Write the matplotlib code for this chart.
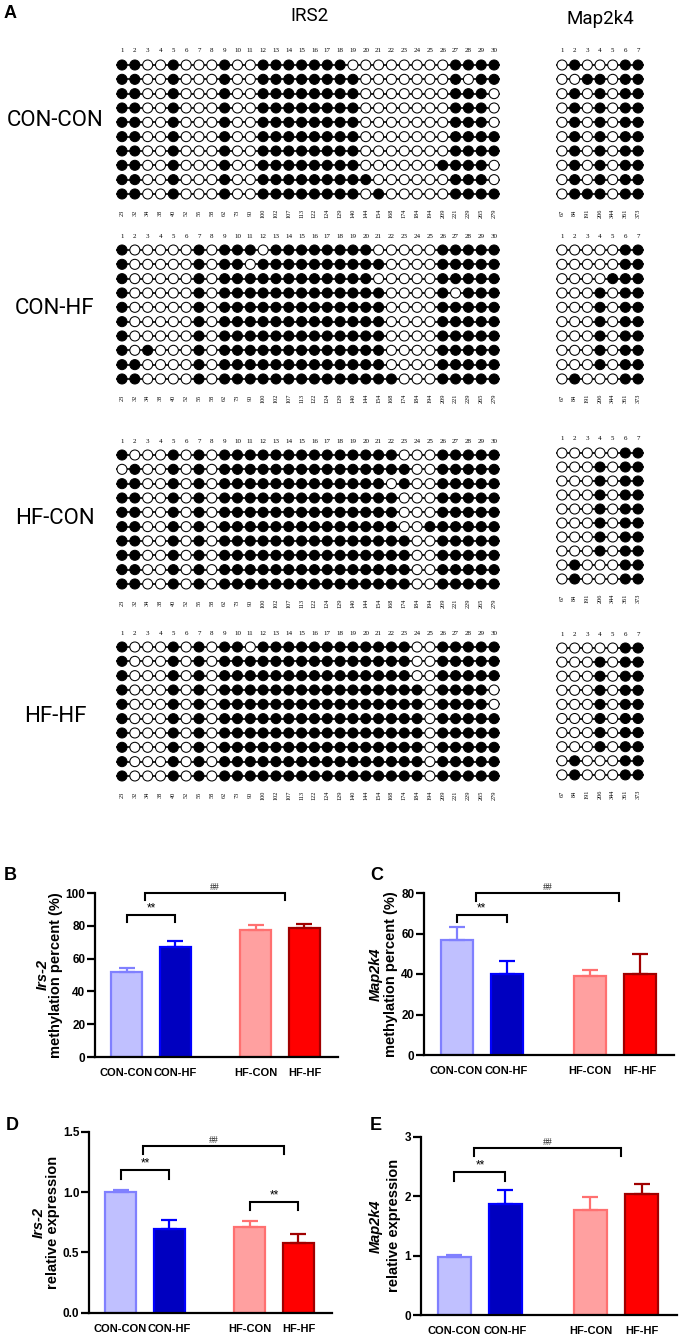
import matplotlib
matplotlib.use('Agg')
import matplotlib.pyplot as plt
import numpy as np

plt.rcParams['font.family'] = ['Liberation Sans', 'DejaVu Sans']

W, H = 688, 1339

# ---------------- data ----------------
groups = ['CON-CON', 'CON-HF', 'HF-CON', 'HF-HF']

irs2_sites = [23, 32, 34, 38, 40, 52, 55, 58, 62, 73, 90, 100, 102, 107, 113,
              122, 124, 129, 140, 144, 154, 168, 174, 184, 194, 209, 221, 229, 265, 279]
map2k4_sites = [67, 84, 191, 206, 344, 361, 373]

irs2_con_con = [
    "1100100010" "0111111100" "0000001111",
    "1100100010" "0111111110" "0000001011",
    "1100100010" "0111111110" "0000001110",
    "1100100010" "0111111110" "0000001110",
    "1100100010" "0111111110" "0000001110",
    "1100100010" "0111111110" "0000001111",
    "1100100010" "0111111110" "0000001111",
    "1100100010" "0111111110" "0000011110",
    "1100100010" "0111111111" "0000001110",
    "1100100010" "0111111110" "1000001111",
]
irs2_con_hf = [
    "1000001011" "1011111111" "0000011111",
    "1000001011" "0111111111" "1000011111",
    "1000001011" "1111111111" "0000011111",
    "1000001011" "1111111111" "1000010111",
    "1000001011" "1111111111" "1000011111",
    "1000001011" "1111111111" "1000011111",
    "1000001011" "1111111111" "1000011111",
    "1010001011" "1111111111" "1000011111",
    "1100001011" "1111111111" "1000011111",
    "1100001011" "1111111111" "1100011111",
]
irs2_hf_con = [
    "1000101011" "1111111111" "1100011111",
    "0100101011" "1111111111" "1110011111",
    "1100101011" "1111111111" "1010011111",
    "1100101011" "1111111111" "1100011111",
    "1100101011" "1111111111" "1100011111",
    "1100101011" "1111111111" "1100111111",
    "1100101011" "1111111111" "1110011111",
    "1100101011" "1111111111" "1110011111",
    "1100101011" "1111111111" "1110011111",
    "1100101011" "1111111111" "1110011111",
]
irs2_hf_hf = [
    "1000101011" "0111111111" "1110011111",
    "1000101011" "1111111111" "1110011111",
    "1000101011" "1111111111" "1110011111",
    "1000101011" "1111111111" "1111011110",
    "1000101011" "1111111111" "1111011110",
    "1000101011" "1111111111" "1111011111",
    "1000101011" "1111111111" "1111011111",
    "1000101011" "1111111111" "1111011111",
    "1000101011" "1111111111" "1111011111",
    "1000101011" "1111111111" "1111011111",
]

map2k4_con_con = ["0100011", "0011011", "0101011", "0101011", "0101011",
                  "0101011", "0101011", "0101011", "0101011", "0111011"]
map2k4_con_hf = ["0000011", "0000011", "0000111", "0001011", "0001011",
                 "0001011", "0001011", "0001011", "0001011", "0100011"]
map2k4_hf_con = ["0000011", "0001011", "0001011", "0001011", "0001011",
                 "0001011", "0001011", "0001011", "0100011", "0100011"]
map2k4_hf_hf = ["0000011", "0001011", "0001011", "0001011", "0001011",
                "0001011", "0001011", "0001011", "0100011", "0100011"]

irs2_blocks = [irs2_con_con, irs2_con_hf, irs2_hf_con, irs2_hf_hf]
map2k4_blocks = [map2k4_con_con, map2k4_con_hf, map2k4_hf_con, map2k4_hf_hf]

bar_labels = ['CON-CON', 'CON-HF', 'HF-CON', 'HF-HF']
irs2_meth_mean = [52, 67, 77.5, 78.5]
irs2_meth_err = [2.5, 4, 3, 2.5]
map2k4_meth_mean = [57, 40, 39, 40]
map2k4_meth_err = [6, 6.5, 3, 10]
irs2_expr_mean = [1.0, 0.69, 0.71, 0.58]
irs2_expr_err = [0.02, 0.08, 0.05, 0.07]
map2k4_expr_mean = [0.98, 1.87, 1.76, 2.04]
map2k4_expr_err = [0.03, 0.24, 0.23, 0.17]

# ---------------- style ----------------
fills = ['#c0c0ff', '#0000c0', '#ffa0a0', '#ff0000']
edges = ['#8080ff', '#0000ff', '#ff7070', '#a00000']

fig = plt.figure(figsize=(W / 100, H / 100), dpi=100)


def px_axes(x0, y0, x1, y1):
    return fig.add_axes([x0 / W, 1 - y1 / H, (x1 - x0) / W, (y1 - y0) / H])


def ftext(x, y, s, **kw):
    return fig.text(x / W, 1 - y / H, s, **kw)


def draw_block(patterns, sites, col1_x, dx, row1_y, dy):
    n = len(sites)
    m = len(patterns)
    ax = px_axes(col1_x - dx / 2, row1_y - dy / 2,
                 col1_x + (n - 0.5) * dx, row1_y + (m - 0.5) * dy)
    ax.set_xlim(0.5, n + 0.5)
    ax.set_ylim(m + 0.5, 0.5)
    ax.axis('off')
    cols = np.arange(1, n + 1)
    ax.hlines(np.arange(1, m + 1), 0.5, n + 0.5, color='black', lw=1.2, zorder=1)
    for r, pat in enumerate(patterns, start=1):
        vals = np.array([int(c) for c in pat])
        ax.scatter(cols, np.full(n, r), s=52,
                   c=np.where(vals == 1, 'black', 'white'),
                   edgecolors='black', linewidths=0.75, zorder=2, clip_on=False)
    for i, s in enumerate(sites):
        ax.text(i + 1, 1 - 14 / dy, str(i + 1), ha='center', va='center',
                fontsize=5, family='Liberation Serif')
        ax.text(i + 1, m + 19 / dy, str(s), ha='center', va='center',
                rotation=90, fontsize=4.5, family='Liberation Serif')
    return ax


irs2_row1 = [65, 250, 455, 647]
irs2_dy = [14.33, 14.33, 14.33, 14.33]
map_row1 = [65, 250, 453, 648]
map_dy = [14.33, 14.33, 14.0, 14.1]
group_label_y = [120, 308, 518, 716]

for g in range(4):
    draw_block(irs2_blocks[g], irs2_sites, 122, 12.83, irs2_row1[g], irs2_dy[g])
    draw_block(map2k4_blocks[g], map2k4_sites, 562, 12.67, map_row1[g], map_dy[g])
    ftext(55, group_label_y[g], groups[g], ha='center', va='center',
          fontsize=16, family=['Roboto', 'DejaVu Sans'])

ftext(4, 14, 'A', ha='left', va='center', fontsize=13, fontweight='bold')
ftext(309, 16, 'IRS2', ha='center', va='center', fontsize=13.5,
      family=['Roboto', 'DejaVu Sans'])
ftext(600, 19, 'Map2k4', ha='center', va='center', fontsize=13.5,
      family=['Roboto', 'DejaVu Sans'])

# ---------------- bar charts ----------------
xpos = np.array([0, 1, 2.66, 3.66])


def bracket(ax, x1, x2, ylow, yhigh, label, fs, color='black', fam=None):
    ax.plot([x1, x1, x2, x2], [ylow, yhigh, yhigh, ylow], color='black',
            lw=1.5, clip_on=False, solid_joinstyle='miter', zorder=4)
    kw = {}
    if fam:
        kw['family'] = fam
    ax.annotate(label, xy=((x1 + x2) / 2, yhigh), xytext=(0, 0.5),
                textcoords='offset points', ha='center', va='bottom',
                fontsize=fs, color=color, annotation_clip=False, **kw)


def draw_bars(box, means, errs, ylim, yticks, ytick_labels, gene, ylab2,
              ylab_x, letter, letter_xy, brackets):
    ax = px_axes(*box)
    ax.bar(xpos, means, width=0.64, color=fills, edgecolor=edges,
           linewidth=1.6, zorder=2)
    for i in range(4):
        ax.errorbar(xpos[i], means[i], yerr=[[0], [errs[i]]], fmt='none',
                    ecolor=edges[i], elinewidth=1.6, capsize=5.5, capthick=1.6,
                    zorder=3)
    ax.set_xlim(-0.65, 4.35)
    ax.set_ylim(*ylim)
    ax.set_yticks(yticks)
    ax.set_yticklabels(ytick_labels, fontweight='bold', fontsize=8.5)
    ax.set_xticks(xpos)
    ax.set_xticklabels(bar_labels, fontweight='bold', fontsize=8)
    ax.tick_params(axis='x', length=0, pad=8)
    ax.tick_params(axis='y', length=5.5, width=1.6, pad=1.5, direction='out')
    for sp in ['top', 'right']:
        ax.spines[sp].set_visible(False)
    for sp in ['left', 'bottom']:
        ax.spines[sp].set_linewidth(1.6)
    ax.patch.set_alpha(0)
    yc = (box[1] + box[3]) / 2
    ftext(ylab_x[0], yc, gene, rotation=90, ha='center', va='center',
          fontsize=10.5, fontweight='bold', fontstyle='italic')
    ftext(ylab_x[1], yc, ylab2, rotation=90, ha='center', va='center',
          fontsize=10.5, fontweight='bold')
    ftext(letter_xy[0], letter_xy[1], letter, ha='left', va='center',
          fontsize=13, fontweight='bold')
    for (x1, x2, ylo, yhi, lab) in brackets:
        if lab == '##':
            bracket(ax, x1, x2, ylo, yhi, lab, 7, color='#222222',
                    fam=['Liberation Serif'])
        else:
            bracket(ax, x1, x2, ylo, yhi, lab, 8.5)
    return ax


draw_bars((95, 893, 338, 1057), irs2_meth_mean, irs2_meth_err, (0, 100),
          [0, 20, 40, 60, 80, 100], ['0', '20', '40', '60', '80', '100'],
          'Irs-2', 'methylation percent (%)', (43, 56), 'B', (4, 875),
          [(0, 1, 82.5, 86.5, '**'), (0.38, 3.25, 95.7, 100, '##')])

draw_bars((424, 893, 674, 1055), map2k4_meth_mean, map2k4_meth_err, (0, 80),
          [0, 20, 40, 60, 80], ['0', '20', '40', '60', '80'],
          'Map2k4', 'methylation percent (%)', (376, 391), 'C', (370, 875),
          [(0, 1, 65.8, 69, '**'), (0.38, 3.25, 76.2, 80, '##')])

draw_bars((89, 1131.7, 332, 1312.7), irs2_expr_mean, irs2_expr_err, (0, 1.5),
          [0, 0.5, 1.0, 1.5], ['0.0', '0.5', '1.0', '1.5'],
          'Irs-2', 'relative expression', (39, 53), 'D', (6, 1125),
          [(0, 1, 1.11, 1.18, '**'), (0.47, 3.37, 1.315, 1.38, '##'),
           (2.66, 3.66, 0.85, 0.915, '**')])

draw_bars((421, 1136.7, 677, 1315), map2k4_expr_mean, map2k4_expr_err, (0, 3),
          [0, 1, 2, 3], ['0', '1', '2', '3'],
          'Map2k4', 'relative expression', (376, 394), 'E', (370, 1125),
          [(0, 1, 2.26, 2.40, '**'), (0.38, 3.25, 2.67, 2.81, '##')])

fig.savefig('out.png', dpi=100)
